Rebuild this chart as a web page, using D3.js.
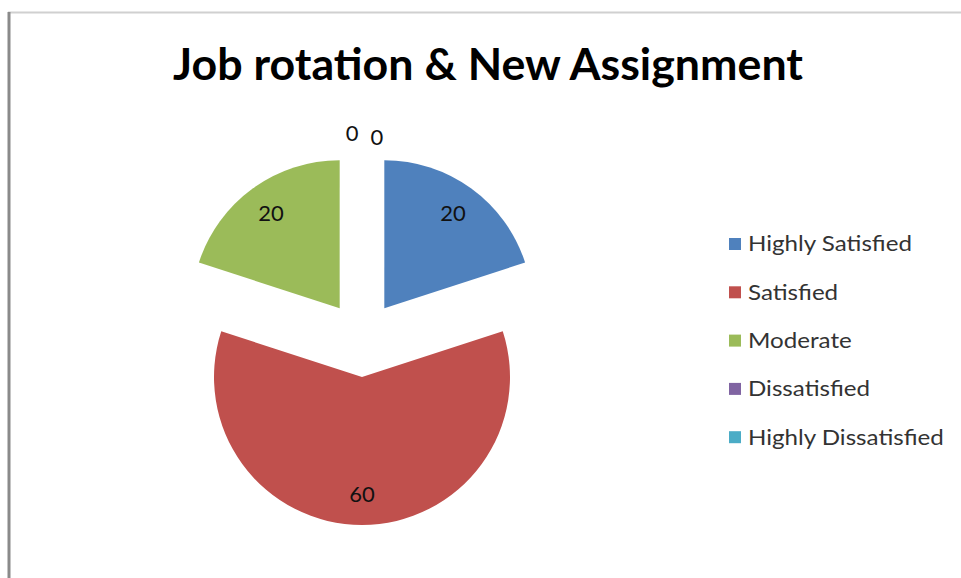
<!DOCTYPE html>
<html>
<head>
<meta charset="utf-8">
<script src="https://cdn.jsdelivr.net/npm/d3@7"></script>
<style>
	body { margin: 0; background: #fff; }
	svg { display: block; }
</style>
</head>
<body>
<svg id="chart"></svg>
<script>
var width = 961;
var height = 578;

var title = "Job rotation & New Assignment";
var categories = ["Highly Satisfied", "Satisfied", "Moderate", "Dissatisfied", "Highly Dissatisfied"];
var values = [20, 60, 20, 0, 0];
var colors = ["#4f81bd", "#c0504d", "#9bbb59", "#8064a2", "#4bacc6"];

var cx = 362, cy = 339;
var radius = 148;
var explode = 38;
var labelRadius = 117;

var svg = d3.select("#chart")
	.attr("width", width)
	.attr("height", height);

// frame lines
svg.append("line")
	.attr("x1", 8).attr("x2", width)
	.attr("y1", 12.5).attr("y2", 12.5)
	.attr("stroke", "#d0d0d0")
	.attr("stroke-width", 2);
svg.append("line")
	.attr("x1", 9).attr("x2", 9)
	.attr("y1", 12).attr("y2", height)
	.attr("stroke", "#8a8a8a")
	.attr("stroke-width", 3);

svg.append("text")
	.attr("x", 488)
	.attr("y", 80)
	.attr("text-anchor", "middle")
	.attr("textLength", 630)
	.attr("lengthAdjust", "spacingAndGlyphs")
	.style("font-family", "Lato, 'Noto Sans', sans-serif")
	.style("font-weight", "bold")
	.style("font-size", "44px")
	.style("fill", "#000")
	.text(title);

var pie = d3.pie().sort(null).value(d => d);
var arcs = pie(values);

var arc = d3.arc().innerRadius(0).outerRadius(radius);

var pieG = svg.append("g")
	.attr("transform", "translate(" + cx + "," + cy + ")");

function mid(d) { return (d.startAngle + d.endAngle) / 2; }

pieG.selectAll("path")
	.data(arcs)
	.enter()
	.append("path")
	.attr("d", arc)
	.attr("fill", (d, i) => colors[i])
	.attr("transform", function (d) {
		var a = mid(d);
		return "translate(" + (explode * Math.sin(a)) + "," + (-explode * Math.cos(a)) + ")";
	});

// data labels
var zeroCount = 0;
pieG.selectAll("text.lbl")
	.data(arcs)
	.enter()
	.append("text")
	.attr("class", "lbl")
	.attr("text-anchor", "middle")
	.attr("dy", "0.35em")
	.style("font-family", "Lato, 'Noto Sans', sans-serif")
	.style("font-size", "22px")
	.style("fill", "#111")
	.each(function (d) {
		var a = mid(d);
		var x, y;
		if (d.value > 0) {
			x = (explode + labelRadius) * Math.sin(a);
			y = -(explode + labelRadius) * Math.cos(a);
		} else {
			// zero slices sit at the top, labels just above the pie
			x = -10 + zeroCount * 25;
			y = -(radius + explode + 20) + zeroCount * 4;
			zeroCount++;
		}
		d3.select(this).attr("x", x).attr("y", y);
	})
	.text(d => d.value);

// legend
var legend = svg.append("g")
	.attr("transform", "translate(729,244)");

var rows = legend.selectAll("g")
	.data(categories)
	.enter()
	.append("g")
	.attr("transform", (d, i) => "translate(0," + (i * 48.3) + ")");

rows.append("rect")
	.attr("x", 0)
	.attr("y", -6)
	.attr("width", 12)
	.attr("height", 12)
	.attr("fill", (d, i) => colors[i]);

rows.append("text")
	.attr("transform", "translate(19,0) scale(1.15,1)")
	.attr("dy", "0.35em")
	.style("font-family", "Lato, 'Noto Sans', sans-serif")
	.style("font-size", "21px")
	.style("fill", "#333")
	.text(d => d);
</script>
</body>
</html>
